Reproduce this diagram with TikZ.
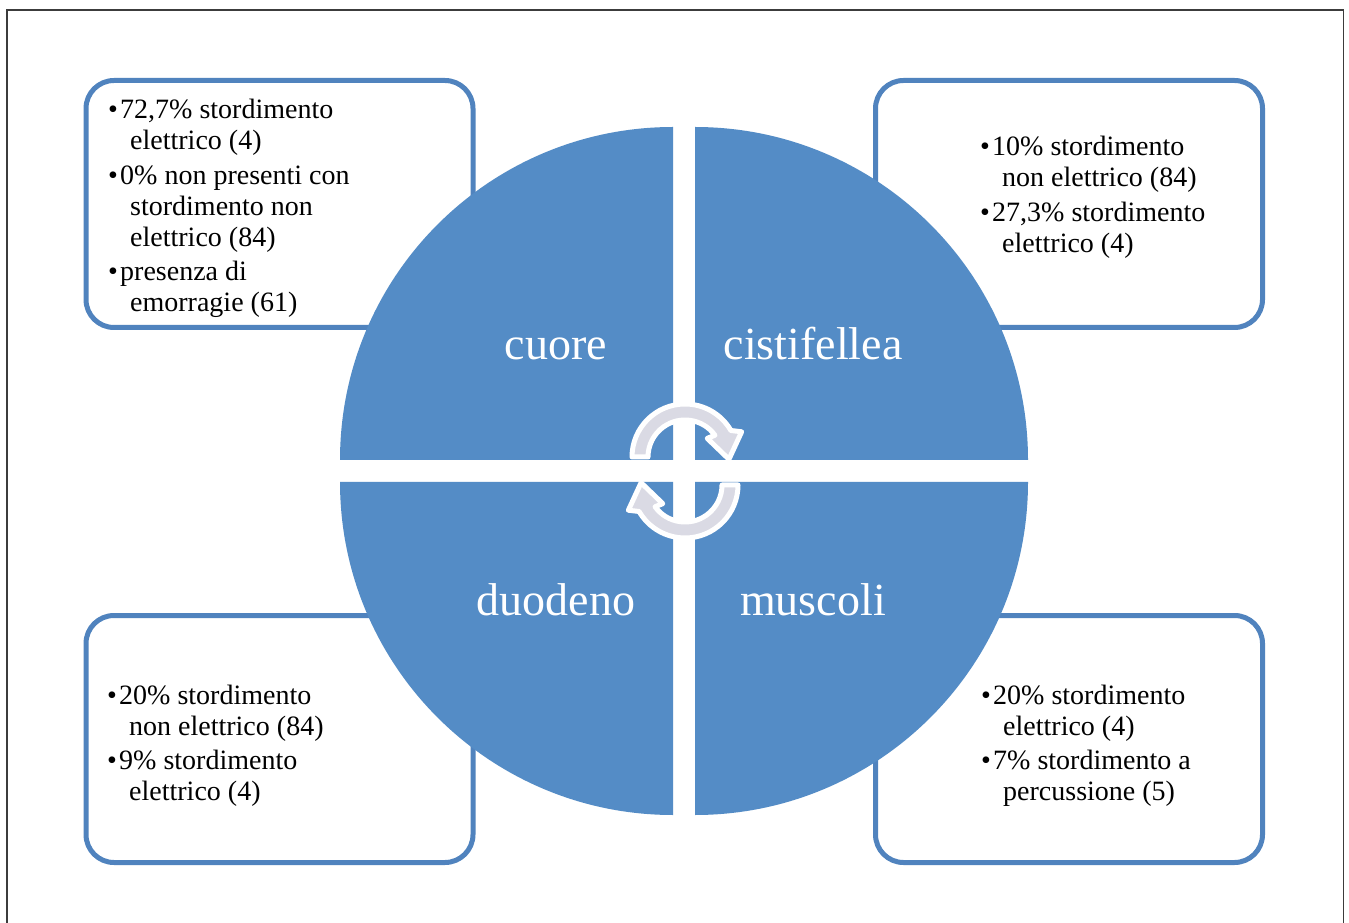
\documentclass[tikz,border=0pt]{standalone}
\usepackage{fontspec}
\setmainfont{Liberation Serif}
\definecolor{pieblue}{RGB}{84,140,198}
\definecolor{boxblue}{RGB}{80,131,190}
\definecolor{arrowgray}{RGB}{218,218,228}
\definecolor{framegray}{RGB}{60,60,60}
\newcommand{\bitem}[1]{\hbox{\makebox[12pt][l]{\textbullet}#1}}
\newcommand{\bcont}[1]{\hbox{\hspace*{22pt}#1}}
\newcommand{\bgap}{\vskip3.5pt}
\newcommand{\blist}[1]{\vtop{\fontsize{28}{31}\selectfont\baselineskip=31pt\lineskiplimit=-50pt\lineskip=0pt #1}}
\tikzset{
  panel/.style={draw=boxblue, line width=5pt, rounded corners=28pt, fill=white, inner sep=0pt, minimum width=387pt, minimum height=247pt},
  pie/.style={fill=pieblue},
  lbl/.style={text=white, font=\fontsize{46}{50}\selectfont, anchor=base, inner sep=0pt},
  txt/.style={anchor=base west, inner sep=0pt, text=black},
  cyc/.style={fill=arrowgray, draw=white, line width=5pt, line join=round},
  framesty/.style={draw=framegray, line width=1.5pt}
}
\begin{document}
\begin{tikzpicture}[x=1pt,y=1pt]
\useasboundingbox (0,0) rectangle (1349,922);
\fill[white] (0,0) rectangle (1349,922);
\draw[framesty] (7,-2) -- (7,912) -- (1343.5,912) -- (1343.5,-2);

% panels
\node[panel] (tlbox) at (279.5,718) {};
\node[panel] (trbox) at (1069,718) {};
\node[panel] (blbox) at (279.5,183) {};
\node[panel] (brbox) at (1069,183) {};

% quarter pies
\fill[pie] (673,462) -- ++(0,333) arc[start angle=90, end angle=180, radius=333] -- cycle;
\fill[pie] (695,462) -- ++(333,0) arc[start angle=0, end angle=90, radius=333] -- cycle;
\fill[pie] (673,440) -- ++(-333,0) arc[start angle=180, end angle=270, radius=333] -- cycle;
\fill[pie] (695,440) -- ++(0,-333) arc[start angle=270, end angle=360, radius=333] -- cycle;

% labels
\node[lbl] (cuore) at (556,562) {cuore};
\node[lbl] (cisti) at (813,562) {cistifellea};
\node[lbl] (duod) at (556,307) {duodeno};
\node[lbl] (musc) at (813,307) {muscoli};

% circular arrows
\coordinate (c1) at (685,465);
\coordinate (c2) at (685,437);
\path[cyc] ([shift={(180:53)}]c1) arc[start angle=180, end angle=30, radius=53]
  -- ([shift={(24:62)}]c1) -- ([shift={(-3:44)}]c1) -- ([shift={(40:29)}]c1)
  -- ([shift={(36:37)}]c1) arc[start angle=36, end angle=180, radius=37] -- cycle;
\path[cyc] ([shift={(0:53)}]c2) arc[start angle=0, end angle=-150, radius=53]
  -- ([shift={(204:62)}]c2) -- ([shift={(177:44)}]c2) -- ([shift={(220:29)}]c2)
  -- ([shift={(216:37)}]c2) arc[start angle=216, end angle=360, radius=37] -- cycle;

% texts
\node[txt] (tltext) at (108,803) {\blist{%
  \bitem{72,7\% stordimento}
  \bcont{elettrico (4)}\bgap
  \bitem{0\% non presenti con}
  \bcont{stordimento non}
  \bcont{elettrico (84)}\bgap
  \bitem{presenza di}
  \bcont{emorragie (61)}}};
\node[txt] (trtext) at (980,766) {\blist{%
  \bitem{10\% stordimento}
  \bcont{non elettrico (84)}\bgap
  \bitem{27,3\% stordimento}
  \bcont{elettrico (4)}}};
\node[txt] (bltext) at (107,218) {\blist{%
  \bitem{20\% stordimento}
  \bcont{non elettrico (84)}\bgap
  \bitem{9\% stordimento}
  \bcont{elettrico (4)}}};
\node[txt] (brtext) at (981,218) {\blist{%
  \bitem{20\% stordimento}
  \bcont{elettrico (4)}\bgap
  \bitem{7\% stordimento a}
  \bcont{percussione (5)}}};
\end{tikzpicture}
\end{document}
